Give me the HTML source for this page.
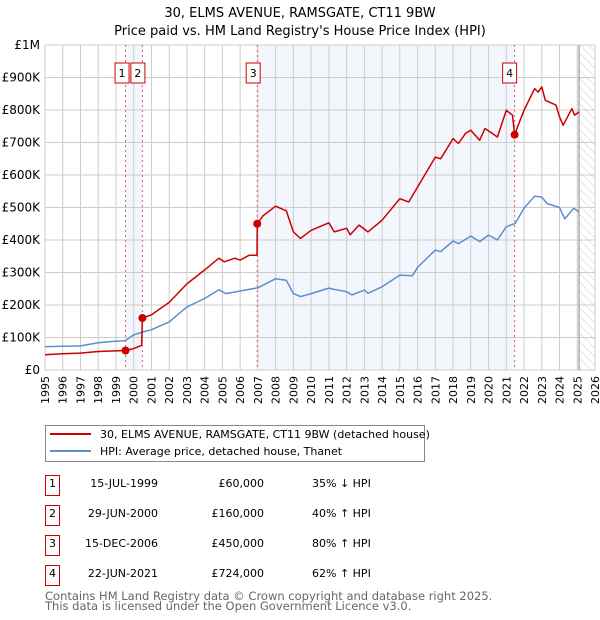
<!DOCTYPE html>
<html><head><meta charset="utf-8"><style>
body{margin:0;background:#fff;}
svg{display:block;font-family:"DejaVu Sans","Liberation Sans",sans-serif;}
</style></head><body>
<svg id="c" width="600" height="620" viewBox="0 0 600 620">
<defs><pattern id="hatch" width="6" height="6" patternUnits="userSpaceOnUse" patternTransform="rotate(-45)"><line x1="0" y1="0" x2="0" y2="6" stroke="#ccc" stroke-width="1"/></pattern></defs>
<text x="300" y="17" text-anchor="middle" font-size="13">30, ELMS AVENUE, RAMSGATE, CT11 9BW</text>
<text x="300" y="35" text-anchor="middle" font-size="13">Price paid vs. HM Land Registry's House Price Index (HPI)</text>
<g id="plot"></g>
<g>
<rect x="45.5" y="425.5" width="379" height="36" fill="#fff" stroke="#888"/>
<line x1="50" y1="434" x2="91" y2="434" stroke="#cc0000" stroke-width="2"/>
<text x="100" y="438" font-size="11">30, ELMS AVENUE, RAMSGATE, CT11 9BW (detached house)</text>
<line x1="50" y1="451" x2="91" y2="451" stroke="#5b8fd0" stroke-width="2"/>
<text x="100" y="455" font-size="11">HPI: Average price, detached house, Thanet</text>
</g>
<g id="table"></g>
<text x="45" y="600" font-size="11.5" fill="#666">Contains HM Land Registry data © Crown copyright and database right 2025.</text>
<text x="45" y="610" font-size="11.5" fill="#666">This data is licensed under the Open Government Licence v3.0.</text>
</svg>
<script>
const hpiYears=[1995,1996,1997,1998,1999,1999.5,2000,2000.5,2001,2002,2003,2004,2004.8,2005.2,2006,2007,2008,2008.6,2009,2009.4,2010,2011,2011.3,2012,2012.3,2013,2013.2,2014,2015,2015.7,2016,2017,2017.3,2018,2018.3,2019,2019.5,2020,2020.5,2021,2021.5,2022,2022.6,2023,2023.3,2024,2024.3,2024.8,2025.1];
const hpiValues=[72,73,74,84,89,90,108,117,124,148,194,220,247,235,243,253,281,276,235,226,235,252,248,241,231,246,236,256,292,290,316,369,364,397,389,412,395,415,400,441,451,498,535,532,512,500,465,498,486];
const propYears=[1995,1996,1997,1998,1999.54,2000,2000.45,2000.49,2001,2002,2003,2004,2004.8,2005.1,2005.7,2006,2006.5,2006.95,2006.96,2007.3,2008,2008.6,2009,2009.4,2010,2011,2011.3,2012,2012.2,2012.7,2013.2,2014,2015,2015.5,2016,2017,2017.3,2018,2018.3,2018.7,2019,2019.5,2019.8,2020.5,2021,2021.35,2021.47,2022,2022.6,2022.8,2023,2023.2,2023.8,2024,2024.2,2024.7,2024.85,2025.1];
const propValues=[47,50,52,57,60,66,76,160,170,208,265,308,344,333,344,338,353,353,450,475,504,490,425,405,430,453,425,436,416,446,425,461,527,517,563,655,650,712,697,728,738,707,743,717,799,784,724,799,866,855,871,830,815,779,753,804,784,794];
const saleYears=[1999.54,2000.49,2006.96,2021.47];
const saleValues=[60,160,450,724];
const saleDates=["15-JUL-1999","29-JUN-2000","15-DEC-2006","22-JUN-2021"];
const salePrices=["£60,000","£160,000","£450,000","£724,000"];
const saleHpi=["35% ↓ HPI","40% ↑ HPI","80% ↑ HPI","62% ↑ HPI"];
const yTicks=[0,100,200,300,400,500,600,700,800,900,1000];
const yTickLabels=["£0","£100K","£200K","£300K","£400K","£500K","£600K","£700K","£800K","£900K","£1M"];

const NS="http://www.w3.org/2000/svg";
const X0=45,X1=595,Y0=370,Y1=45;
const xs=y=>X0+(y-1995)*(X1-X0)/31;
const ys=v=>Y0-v*(Y0-Y1)/1000;
const plot=document.getElementById('plot');
function mk(tag,attrs,parent){const e=document.createElementNS(NS,tag);for(const k in attrs)e.setAttribute(k,attrs[k]);(parent||plot).appendChild(e);return e;}

let r=mk('rect',{x:xs(saleYears[0]),y:Y1,width:xs(saleYears[1])-xs(saleYears[0]),height:Y0-Y1,fill:'#eef2fc',opacity:0.7});


r=mk('rect',{x:xs(saleYears[2]),y:Y1,width:xs(saleYears[3])-xs(saleYears[2]),height:Y0-Y1,fill:'#eef2fc',opacity:0.7});


r=mk('rect',{x:xs(2025.1),y:Y1,width:X1-xs(2025.1),height:Y0-Y1,fill:'url(#hatch)'});



for(let yr=1995;yr<=2026;yr++){
  const l=mk('line',{x1:xs(yr),x2:xs(yr),y1:Y1,y2:Y0,stroke:'#ccc','stroke-width':1});
  
  
  const t=mk('text',{x:0,y:0,'font-size':11,'text-anchor':'end',transform:`translate(${xs(yr)+4},${Y0+6}) rotate(-90)`});
  t.textContent=String(yr);
  
  
}
yTicks.forEach((v,i)=>{
  const l=mk('line',{x1:X0,x2:X1,y1:ys(v),y2:ys(v),stroke:'#ccc','stroke-width':1});
  
  
  const t=mk('text',{x:40,y:ys(v)+4,'font-size':12,'text-anchor':'end'});
  t.textContent=yTickLabels[i];
  
  
});
let vl=mk('line',{x1:xs(2025.1),x2:xs(2025.1),y1:Y1,y2:Y0,stroke:'#888','stroke-width':1});



saleYears.forEach((y,i)=>{
  const l=mk('line',{x1:xs(y),x2:xs(y),y1:Y1,y2:Y0,stroke:'#e06060','stroke-width':1,'stroke-dasharray':'2,3'});
  
  
});

function path(xa,va,col,name){
  const d=xa.map((y,i)=>(i?'L':'M')+xs(y).toFixed(1)+','+ys(va[i]).toFixed(1)).join('');
  const p=mk('path',{d:d,fill:'none',stroke:col,'stroke-width':1.5,'stroke-linejoin':'round'});
  
  
}
path(hpiYears,hpiValues,'#5b8fd0','hpi-line');
path(propYears,propValues,'#cc0000','property-line');

const boxOff=[-3.5,-4.5,-4,-5];
saleYears.forEach((y,i)=>{
  const c=mk('circle',{cx:xs(y),cy:ys(saleValues[i]),r:4,fill:'#cc0000'});
  
  
  const g=mk('g',{});
  
  
  const bx=xs(y)+boxOff[i]-7;
  mk('rect',{x:bx,y:63,width:14,height:20,fill:'#fff',stroke:'#cc0000'},g);
  const t=mk('text',{x:bx+7,y:77,'font-size':11,'text-anchor':'middle'},g);
  t.textContent=String(i+1);
});

const tb=document.getElementById('table');
saleDates.forEach((d,i)=>{
  const y0=475+i*30;
  const g=mk('g',{},tb);
  
  
  mk('rect',{x:45.5,y:y0+0.5,width:14,height:20,fill:'#fff',stroke:'#cc0000'},g);
  let t=mk('text',{x:52.5,y:y0+12,'font-size':11,'text-anchor':'middle'},g);t.textContent=String(i+1);
  t=mk('text',{x:158,y:y0+12,'font-size':11,'text-anchor':'end'},g);t.textContent=d;
  t=mk('text',{x:264,y:y0+12,'font-size':11,'text-anchor':'end'},g);t.textContent=salePrices[i];
  t=mk('text',{x:312,y:y0+12,'font-size':11},g);t.textContent=saleHpi[i];
});
</script>
</body></html>
